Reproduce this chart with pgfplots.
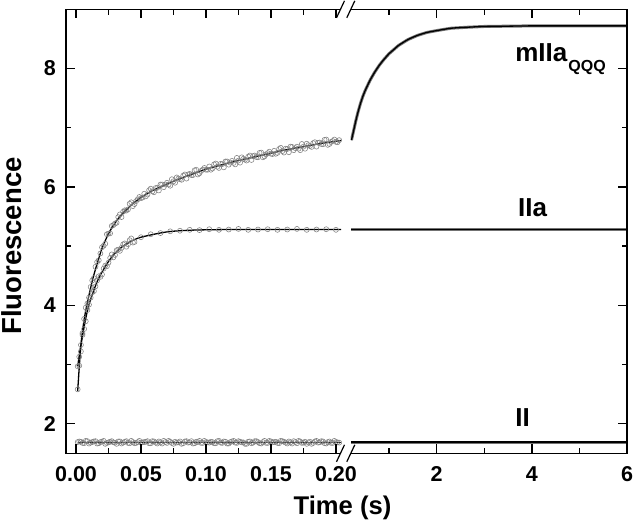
\documentclass[border=0pt]{standalone}
\usepackage{fontspec}
\setmainfont{Liberation Sans}
\usepackage{pgfplots}
\usepackage{pgfplotstable}
\pgfplotsset{compat=1.18}

\pgfplotstableread{
t m ii
0.0013 2.58 1.690
0.0025 2.98 1.700
0.0050 3.53 1.675
0.0075 3.96 1.710
0.0100 4.13 1.665
0.0125 4.42 1.690
0.0150 4.65 1.705
0.0175 4.76 1.670
0.0200 4.98 1.695
0.0225 5.04 1.660
0.0250 5.21 1.685
0.0275 5.34 1.705
0.0300 5.38 1.680
0.0325 5.49 1.700
0.0350 5.49 1.665
0.0375 5.605 1.695
0.0400 5.62 1.675
0.0425 5.74 1.710
0.0450 5.71 1.670
0.0475 5.79 1.690
0.0500 5.81 1.680
0.0525 5.885 1.690
0.0550 5.87 1.705
0.0575 5.97 1.670
0.0600 5.91 1.700
0.0625 5.985 1.665
0.0650 6.04 1.685
0.0675 5.995 1.710
0.0700 6.07 1.675
0.0725 6.02 1.695
0.0750 6.095 1.660
0.0775 6.16 1.680
0.0800 6.13 1.700
0.0825 6.19 1.670
0.0850 6.14 1.705
0.0875 6.22 1.685
0.0900 6.20 1.665
0.0925 6.29 1.695
0.0950 6.23 1.710
0.0975 6.29 1.675
0.1000 6.29 1.690
0.1025 6.345 1.680
0.1050 6.31 1.690
0.1075 6.395 1.670
0.1100 6.32 1.710
0.1125 6.385 1.675
0.1150 6.43 1.695
0.1175 6.375 1.665
0.1200 6.44 1.700
0.1225 6.38 1.680
0.1250 6.445 1.705
0.1275 6.50 1.685
0.1300 6.46 1.660
0.1325 6.51 1.695
0.1350 6.455 1.670
0.1375 6.53 1.705
0.1400 6.50 1.690
0.1425 6.58 1.665
0.1450 6.515 1.710
0.1475 6.57 1.675
0.1500 6.56 1.700
0.1525 6.61 1.690
0.1550 6.575 1.675
0.1575 6.66 1.710
0.1600 6.58 1.695
0.1625 6.64 1.665
0.1650 6.68 1.685
0.1675 6.62 1.705
0.1700 6.68 1.670
0.1725 6.62 1.700
0.1750 6.68 1.680
0.1775 6.73 1.660
0.1800 6.69 1.695
0.1825 6.74 1.675
0.1850 6.68 1.710
0.1875 6.75 1.685
0.1900 6.72 1.700
0.1925 6.80 1.665
0.1950 6.725 1.700
0.1975 6.775 1.675
0.2000 6.76 1.690
0.2025 6.79 1.680
}\dataleft

\pgfplotstableread{
t m ii
0.00375 3.22 1.695
0.00625 3.77 1.670
0.00875 4.03 1.705
0.01125 4.31 1.680
0.01375 4.46 1.700
0.01625 4.73 1.665
0.01875 4.875 1.690
0.02125 5.005 1.710
0.02375 5.20 1.675
0.02625 5.215 1.695
0.02875 5.355 1.685
0.03125 5.395 1.660
0.03375 5.535 1.700
0.03625 5.58 1.680
0.03875 5.60 1.705
0.04125 5.715 1.670
0.04375 5.675 1.690
0.04625 5.76 1.675
0.04875 5.83 1.710
0.05125 5.82 1.685
0.05375 5.84 1.695
0.05625 5.945 1.670
0.05875 5.925 1.705
0.06125 5.98 1.680
0.06375 5.94 1.700
0.06625 6.04 1.665
0.06875 6.04 1.690
0.07125 6.04 1.710
0.07375 6.13 1.675
0.07625 6.07 1.695
0.07875 6.14 1.685
0.08125 6.12 1.660
0.08375 6.21 1.700
0.08625 6.21 1.680
0.08875 6.20 1.705
0.09125 6.28 1.670
0.09375 6.21 1.690
0.09625 6.27 1.675
0.09875 6.32 1.710
0.10125 6.29 1.685
0.10375 6.29 1.695
0.10625 6.38 1.670
0.10875 6.34 1.705
0.11125 6.39 1.680
0.11375 6.33 1.700
0.11625 6.43 1.665
0.11875 6.41 1.690
0.12125 6.405 1.710
0.12375 6.49 1.675
0.12625 6.41 1.695
0.12875 6.475 1.685
0.13125 6.445 1.660
0.13375 6.53 1.700
0.13625 6.52 1.680
0.13875 6.505 1.705
0.14125 6.575 1.670
0.14375 6.50 1.690
0.14625 6.55 1.675
0.14875 6.595 1.710
0.15125 6.555 1.685
0.15375 6.56 1.695
0.15625 6.64 1.670
0.15875 6.605 1.705
0.16125 6.645 1.680
0.16375 6.585 1.700
0.16625 6.675 1.665
0.16875 6.655 1.690
0.17125 6.645 1.710
0.17375 6.725 1.675
0.17625 6.645 1.695
0.17875 6.705 1.685
0.18125 6.675 1.660
0.18375 6.755 1.700
0.18625 6.745 1.680
0.18875 6.725 1.705
0.19125 6.795 1.670
0.19375 6.71 1.690
0.19625 6.76 1.675
0.19875 6.80 1.710
0.20125 6.755 1.685
}\dataleftb

\pgfplotstableread{
t y
0.0013 2.97
0.0025 3.13
0.0038 3.33
0.0050 3.50
0.0063 3.60
0.0075 3.73
0.0088 3.92
0.0100 4.01
0.0113 4.13
0.0125 4.22
0.0138 4.24
0.0150 4.32
0.0163 4.42
0.0175 4.49
0.0188 4.48
0.0200 4.52
0.0213 4.62
0.0225 4.67
0.0238 4.66
0.0250 4.72
0.0263 4.80
0.0275 4.86
0.0288 4.81
0.0300 4.85
0.0313 4.93
0.0325 4.94
0.0338 4.92
0.0350 4.97
0.0363 5.03
0.0375 5.045
0.0388 4.99
0.0400 5.03
0.0413 5.10
0.0425 5.13
0.0438 5.06
0.0450 5.07
0.0500 5.15
0.0575 5.20
0.0650 5.22
0.0725 5.25
0.0800 5.26
0.0875 5.275
0.0950 5.27
0.1025 5.285
0.1100 5.275
0.1175 5.28
0.1250 5.29
0.1325 5.275
0.1400 5.28
0.1475 5.285
0.1550 5.275
0.1625 5.28
0.1700 5.29
0.1775 5.275
0.1850 5.28
0.1925 5.285
0.2000 5.275
}\iiacircles

\pgfplotstableread{
t y
0.0013 2.55
0.0025 2.95
0.0040 3.38
0.0060 3.72
0.0080 3.97
0.0100 4.17
0.0125 4.41
0.0150 4.61
0.0175 4.79
0.0200 4.96
0.0250 5.21
0.0300 5.39
0.0350 5.53
0.0400 5.64
0.0450 5.74
0.0500 5.82
0.0550 5.89
0.0600 5.95
0.0700 6.05
0.0800 6.14
0.0900 6.22
0.1000 6.30
0.1100 6.36
0.1200 6.42
0.1300 6.47
0.1400 6.52
0.1500 6.57
0.1600 6.62
0.1700 6.66
0.1800 6.70
0.1900 6.74
0.2000 6.77
0.2040 6.785
}\mfit

\pgfplotstableread{
t y
0.0013 2.97
0.0030 3.22
0.0050 3.48
0.0075 3.78
0.0100 4.01
0.0125 4.18
0.0150 4.33
0.0175 4.46
0.0200 4.56
0.0250 4.74
0.0300 4.88
0.0350 4.98
0.0400 5.05
0.0450 5.11
0.0500 5.15
0.0600 5.20
0.0700 5.24
0.0800 5.26
0.0900 5.27
0.1000 5.275
0.1200 5.28
0.1600 5.28
0.2040 5.28
}\iiafit

\pgfplotstableread{
t y
0.21 6.79
0.25 6.93
0.30 7.11
0.35 7.27
0.40 7.41
0.45 7.53
0.50 7.63
0.60 7.80
0.70 7.94
0.80 8.06
0.90 8.16
1.00 8.25
1.10 8.32
1.20 8.39
1.40 8.49
1.60 8.56
1.80 8.61
2.00 8.64
2.30 8.68
2.60 8.695
3.00 8.71
3.50 8.715
4.00 8.72
5.00 8.72
6.00 8.72
}\mright

\begin{document}
\begin{tikzpicture}[font=\bfseries]
\path[use as bounding box] (-66pt,-66.7pt) rectangle (567pt,453.3pt);
\pgfplotsset{
  base/.style={
    scale only axis, height=444pt, ymin=1.5, ymax=9,
    axis line style={draw=none},
    tick style={draw=none},
    tick label style={font=\fontsize{21.5}{21.5}\selectfont\bfseries, inner sep=0pt},
    xticklabel style={yshift=-13pt},
    yticklabel style={xshift=-10pt},
    ytick={2,4,6,8}, minor ytick={3,5,7},
    xtick pos=both, xticklabel pos=bottom,
    /pgf/number format/assume math mode=true,
  },
  circ/.style={only marks, mark=o, mark size=2.5pt, draw=black!50, mark options={line width=0.55pt}},
  fit/.style={black, line width=1.3pt, smooth, no marks},
  band/.style={black!55, line width=3pt, no marks},
}
\begin{axis}[base, at={(0pt,0pt)}, anchor=south west, width=275.3pt,
  ytick pos=left,
  xmin=-0.00769, xmax=0.2041,
  xtick={0,0.05,0.1,0.15,0.2}, xticklabels={0.00,0.05,0.10,0.15,0.20},
  minor xtick={0.025,0.075,0.125,0.175}]
\addplot[circ] table[x=t,y=m] {\dataleft};
\addplot[circ] table[x=t,y=m] {\dataleftb};
\addplot[circ] table[x=t,y=ii] {\dataleft};
\addplot[circ] table[x=t,y=ii] {\dataleftb};
\addplot[circ] table[x=t,y=y] {\iiacircles};
\addplot[fit] table[x=t,y=y] {\mfit};
\addplot[fit] table[x=t,y=y] {\iiafit};
\addplot[black, line width=1.3pt, no marks] coordinates {(0.0013,1.685) (0.204,1.685)};
\end{axis}
\begin{axis}[base, at={(284.5pt,0pt)}, anchor=south west, width=276.5pt,
  ytick pos=right, yticklabels={},
  xmin=0.19, xmax=6,
  xtick={2,4,6}, xticklabels={2,4,6},
  minor xtick={1,3,5}]
\addplot[band] table[x=t,y=y] {\mright};
\addplot[band] coordinates {(0.21,5.28) (6,5.28)};
\addplot[band] coordinates {(0.21,1.69) (6,1.69)};
\addplot[fit] table[x=t,y=y] {\mright};
\addplot[black, line width=1.2pt, no marks] coordinates {(0.21,5.28) (6,5.28)};
\addplot[black, line width=1.2pt, no marks] coordinates {(0.21,1.69) (6,1.69)};
\node[anchor=base west, inner sep=0pt, font=\fontsize{26}{26}\selectfont\bfseries] at (axis cs:3.65,8.115) {mIIa\kern1pt\raisebox{-10pt}{\fontsize{16}{16}\selectfont QQQ}};
\node[anchor=base west, inner sep=0pt, font=\fontsize{26}{26}\selectfont\bfseries] at (axis cs:3.71,5.50) {IIa};
\node[anchor=base west, inner sep=0pt, font=\fontsize{26}{26}\selectfont\bfseries] at (axis cs:3.65,1.96) {II};
\end{axis}
% frame
\draw[line width=1.4pt, line join=miter] (275.3pt,444pt) -- (0pt,444pt) -- (0pt,0pt) -- (275.3pt,0pt);
\draw[line width=1.4pt, line join=miter] (284.5pt,444pt) -- (561pt,444pt) -- (561pt,0pt) -- (284.5pt,0pt);
% ticks, inside: major 9pt, minor 5.5pt
\draw[line width=1.4pt]
  (10pt,0pt) -- (10pt,9pt)   (75pt,0pt) -- (75pt,9pt)   (140pt,0pt) -- (140pt,9pt)
  (205pt,0pt) -- (205pt,9pt) (270pt,0pt) -- (270pt,9pt)
  (370.64pt,0pt) -- (370.64pt,9pt) (465.82pt,0pt) -- (465.82pt,9pt)
  (10pt,444pt) -- (10pt,435pt)   (75pt,444pt) -- (75pt,435pt)   (140pt,444pt) -- (140pt,435pt)
  (205pt,444pt) -- (205pt,435pt) (270pt,444pt) -- (270pt,435pt)
  (370.64pt,444pt) -- (370.64pt,435pt) (465.82pt,444pt) -- (465.82pt,435pt)
  (42.5pt,0pt) -- (42.5pt,5.5pt)   (107.5pt,0pt) -- (107.5pt,5.5pt)
  (172.5pt,0pt) -- (172.5pt,5.5pt) (237.5pt,0pt) -- (237.5pt,5.5pt)
  (323.05pt,0pt) -- (323.05pt,5.5pt) (418.23pt,0pt) -- (418.23pt,5.5pt) (513.41pt,0pt) -- (513.41pt,5.5pt)
  (42.5pt,444pt) -- (42.5pt,438.5pt)   (107.5pt,444pt) -- (107.5pt,438.5pt)
  (172.5pt,444pt) -- (172.5pt,438.5pt) (237.5pt,444pt) -- (237.5pt,438.5pt)
  (323.05pt,444pt) -- (323.05pt,438.5pt) (418.23pt,444pt) -- (418.23pt,438.5pt) (513.41pt,444pt) -- (513.41pt,438.5pt)
  (0pt,29.6pt) -- (9pt,29.6pt)   (0pt,148pt) -- (9pt,148pt)   (0pt,266.4pt) -- (9pt,266.4pt)   (0pt,384.8pt) -- (9pt,384.8pt)
  (561pt,29.6pt) -- (552pt,29.6pt) (561pt,148pt) -- (552pt,148pt) (561pt,266.4pt) -- (552pt,266.4pt) (561pt,384.8pt) -- (552pt,384.8pt)
  (0pt,88.8pt) -- (5.5pt,88.8pt) (0pt,207.2pt) -- (5.5pt,207.2pt) (0pt,325.6pt) -- (5.5pt,325.6pt)
  (561pt,88.8pt) -- (555.5pt,88.8pt) (561pt,207.2pt) -- (555.5pt,207.2pt) (561pt,325.6pt) -- (555.5pt,325.6pt);
% axis break marks
\draw[line width=1.2pt] (270.5pt,435.5pt) -- (278.5pt,452.5pt) (280.8pt,435.5pt) -- (288.8pt,452.5pt);
\draw[line width=1.2pt] (270.5pt,-8.5pt) -- (278.5pt,8.5pt) (280.8pt,-8.5pt) -- (288.8pt,8.5pt);
\node[anchor=base, inner sep=0pt, font=\fontsize{25.6}{25.6}\selectfont\bfseries] at (276.5pt,-61pt) {Time (s)};
\node[rotate=90, anchor=base, inner sep=0pt, font=\fontsize{27.5}{27.5}\selectfont\bfseries] at (-44.3pt,207.3pt) {Fluorescence};
\end{tikzpicture}
\end{document}
